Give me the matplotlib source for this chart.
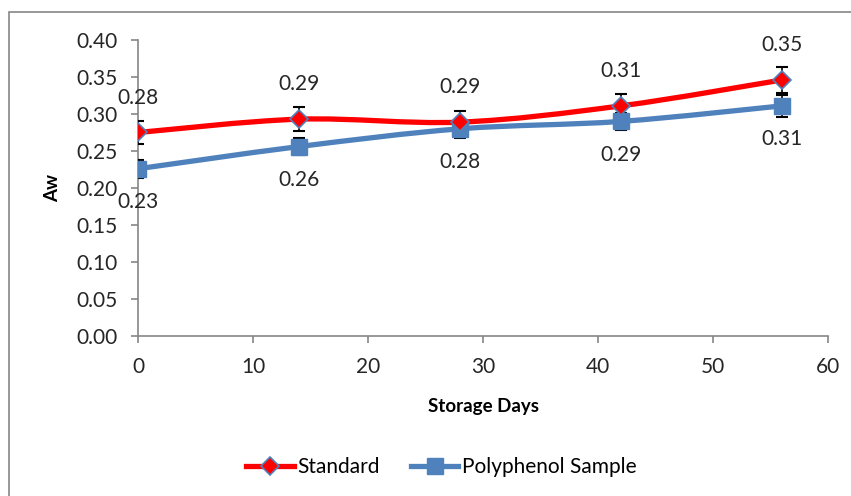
import numpy as np
import matplotlib.pyplot as plt
from matplotlib.path import Path
from matplotlib.patches import PathPatch, Rectangle
from matplotlib.lines import Line2D

# data
days = [0, 14, 28, 42, 56]
standard = [0.275, 0.293, 0.289, 0.311, 0.346]
standard_err = [0.015, 0.016, 0.015, 0.016, 0.017]
polyphenol = [0.226, 0.256, 0.280, 0.290, 0.311]
polyphenol_err = [0.012, 0.012, 0.013, 0.012, 0.015]

RED = '#FF0000'
BLUE = '#4F81BD'
GRAY = '#868686'

plt.rcParams['font.family'] = ['Lato', 'DejaVu Sans']
plt.rcParams['font.size'] = 15


def smooth_path(x, y):
    # cubic bezier through the points (catmull-rom style control points)
    pts = np.column_stack([x, y]).astype(float)
    n = len(pts)
    verts = [pts[0]]
    codes = [Path.MOVETO]
    for i in range(n - 1):
        p0 = pts[max(i - 1, 0)]
        p1 = pts[i]
        p2 = pts[i + 1]
        p3 = pts[min(i + 2, n - 1)]
        c1 = p1 + (p2 - p0) / 6
        c2 = p2 - (p3 - p1) / 6
        verts += [c1, c2, p2]
        codes += [Path.CURVE4] * 3
    return Path(verts, codes)


fig = plt.figure(figsize=(8.51, 4.96), dpi=100)
ax = fig.add_axes([138 / 851, 1 - 336 / 496, 690 / 851, 296 / 496])

# chart border
fig.patches.append(Rectangle((9 / 851, -0.1), 1.2, 1 - 12 / 496 + 0.1,
                             transform=fig.transFigure, fill=False,
                             edgecolor=GRAY, linewidth=1.2))

for ys, color in [(polyphenol, BLUE), (standard, RED)]:
    ax.add_patch(PathPatch(smooth_path(days, ys), fill=False, edgecolor=color,
                           linewidth=3.8, capstyle='round', zorder=2))

ax.errorbar(days, polyphenol, yerr=polyphenol_err, fmt='none', ecolor='black',
            elinewidth=1.2, capsize=4, capthick=1.5, zorder=3)
ax.errorbar(days, standard, yerr=standard_err, fmt='none', ecolor='black',
            elinewidth=1.2, capsize=4, capthick=1.5, zorder=3)

ax.plot(days, polyphenol, linestyle='none', marker='s', markersize=11,
        markerfacecolor=BLUE, markeredgecolor=BLUE, zorder=4)
ax.plot(days, standard, linestyle='none', marker='D', markersize=9,
        markerfacecolor=RED, markeredgecolor=BLUE, markeredgewidth=1.2, zorder=5)

# data labels
for x, y in zip(days, standard):
    ax.annotate(f'{y:.2f}', (x, y), xytext=(0, 25), textcoords='offset points',
                ha='center', va='center', color='#262626', zorder=6)
for x, y in zip(days, polyphenol):
    ax.annotate(f'{y:.2f}', (x, y), xytext=(0, -24), textcoords='offset points',
                ha='center', va='center', color='#262626', zorder=6)

ax.set_xlim(0, 60)
ax.set_ylim(0, 0.40)
ax.set_xticks(range(0, 61, 10))
ax.set_yticks(np.arange(0, 0.401, 0.05))
ax.set_yticklabels([f'{v:.2f}' for v in np.arange(0, 0.401, 0.05)])

for s in ['top', 'right']:
    ax.spines[s].set_visible(False)
for s in ['left', 'bottom']:
    ax.spines[s].set_color(GRAY)
    ax.spines[s].set_linewidth(1.2)
ax.tick_params(axis='both', direction='out', length=5, width=1.2, color=GRAY,
               labelcolor='#262626')
ax.tick_params(axis='y', pad=10)
ax.tick_params(axis='x', pad=10)

ax.set_xlabel('Storage Days', fontweight='bold', fontsize=13.5, labelpad=15)
ax.set_ylabel('Aw', fontweight='bold', fontsize=13.5, labelpad=11)

handles = [
    Line2D([], [], color=RED, linewidth=3.8, marker='D', markersize=9,
           markerfacecolor=RED, markeredgecolor=BLUE, markeredgewidth=1.2),
    Line2D([], [], color=BLUE, linewidth=3.8, marker='s', markersize=11,
           markerfacecolor=BLUE, markeredgecolor=BLUE),
]
fig.legend(handles, ['Standard', 'Polyphenol Sample'], loc='center',
           bbox_to_anchor=(441 / 851, 1 - 467 / 496), ncol=2, frameon=False,
           handlelength=2.3, handletextpad=0.15, columnspacing=1.5)

fig.savefig('out.png', dpi=100)
